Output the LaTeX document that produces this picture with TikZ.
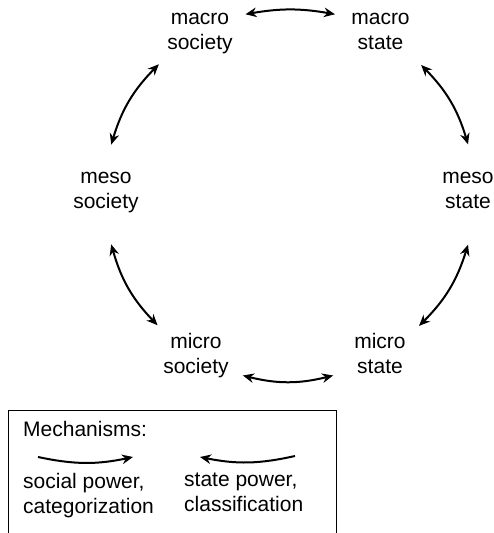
\documentclass[tikz,border=0pt]{standalone}
\usepackage{fontspec}
\setmainfont{Liberation Sans}
\usetikzlibrary{arrows.meta}

\begin{document}
\begin{tikzpicture}[x=1pt, y=1pt,
    font=\fontsize{21}{25}\selectfont,
    tier/.style={circle, minimum size=100pt, inner sep=0pt, align=center,
      execute at begin node=\strut, execute at end node=\strut},
    twoway/.style={{Stealth[length=11pt,width=9.5pt]}-{Stealth[length=11pt,width=9.5pt]}, line width=2pt},
    oneway/.style={-{Stealth[length=11pt,width=9.5pt]}, line width=2pt},
    legtext/.style={anchor=north west, inner sep=0pt, align=left,
      execute at begin node=\strut, execute at end node=\strut}]
    \useasboundingbox (0,0) rectangle (493,533);

    \node[tier] (macsoc) at (200,497.5) {macro\\society};
    \node[tier] (macst) at (380.5,497.5) {macro\\state};
    \node[tier] (messoc) at (106,338.5) {meso\\society};
    \node[tier] (messt) at (468,338.5) {meso\\state};
    \node[tier] (micsoc) at (196,175.5) {micro\\society};
    \node[tier] (micst) at (380,175.5) {micro\\state};

    \draw[twoway] (macst.155) to[bend right=10] (macsoc.25);
    \draw[twoway] (macsoc.215) to[bend right=14] (messoc.84);
    \draw[twoway] (messoc.-84) to[bend right=14] (micsoc.140);
    \draw[twoway] (micsoc.-21) to[bend right=14] (micst.201);
    \draw[twoway] (micst.39) to[bend right=14] (messt.-90);
    \draw[twoway] (messt.90) to[bend right=14] (macst.-36);

    % legend
    \draw[line width=1pt] (8,0) -- (8,122) -- (336,122) -- (336,0);
    \node[anchor=base west, inner sep=0pt] (mech) at (23,96) {Mechanisms:};
    \node[legtext] (socpow) at (23,60) {social power,\\categorization};
    \node[legtext] (stpow) at (184,60) {state power,\\classification};
    \coordinate (sp1) at (38,76);
    \coordinate (sp2) at (133,76);
    \coordinate (st1) at (295,77);
    \coordinate (st2) at (200,76);
    \draw[oneway] (sp1) to[bend right=12] (sp2);
    \draw[oneway] (st1) to[bend left=12] (st2);
\end{tikzpicture}
\end{document}
